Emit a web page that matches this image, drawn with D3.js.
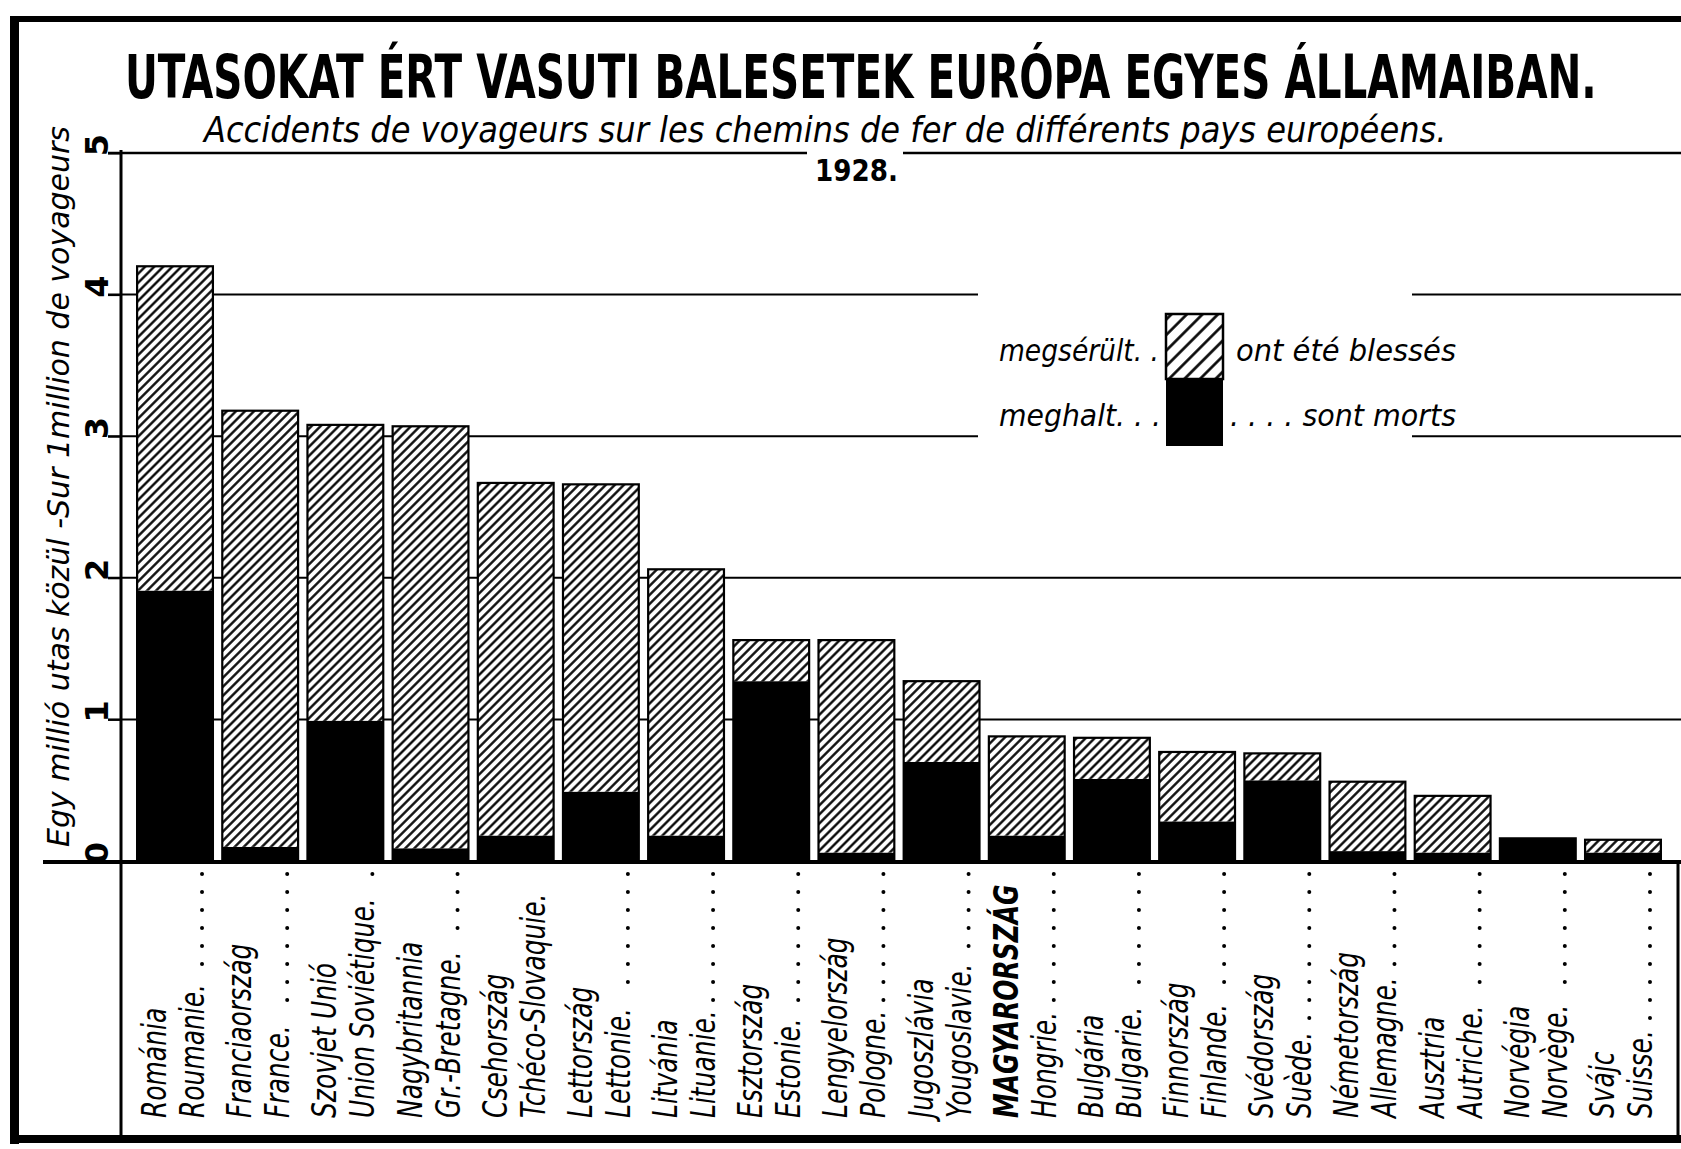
<!DOCTYPE html>
<html>
<head>
<meta charset="utf-8">
<script src="https://cdn.jsdelivr.net/npm/d3@7"></script>
<style>
  html, body { margin: 0; padding: 0; background: #fff; }
  svg { display: block; }
  text { fill: #000; }
</style>
</head>
<body>
<script>
// hungarian / french names, left to right
const huNames = ["Románia", "Franciaország", "Szovjet Unió", "Nagybritannia", "Csehország",
  "Lettország", "Litvánia", "Esztország", "Lengyelország", "Jugoszlávia", "MAGYARORSZÁG",
  "Bulgária", "Finnország", "Svédország", "Németország", "Ausztria", "Norvégia", "Svájc"];
const frNames = ["Roumanie.", "France.", "Union Soviétique.", "Gr.-Bretagne.", "Tchéco-Slovaquie.",
  "Lettonie.", "Lituanie.", "Estonie.", "Pologne.", "Yougoslavie.", "Hongrie.",
  "Bulgarie.", "Finlande.", "Suède.", "Allemagne.", "Autriche.", "Norvège.", "Suisse."];

// per 1 million passengers
const killed  = [1.91, 0.10, 0.99, 0.09, 0.18, 0.49, 0.18, 1.27, 0.06, 0.70, 0.18, 0.58, 0.28, 0.57, 0.07, 0.06, 0.16, 0.06];
const injured = [2.29, 3.08, 2.09, 2.98, 2.49, 2.17, 1.88, 0.29, 1.50, 0.57, 0.70, 0.29, 0.49, 0.19, 0.49, 0.40, 0.00, 0.09];

const yTicks = [0, 1, 2, 3, 4, 5];

const w = 1681, h = 1149;
const fontC = "'DejaVu Sans Condensed', 'DejaVu Sans', sans-serif";

const svg = d3.select("body").append("svg")
  .attr("width", w)
  .attr("height", h);

const defs = svg.append("defs");
const hatch = (id, step, sw) => {
  const p = defs.append("pattern")
    .attr("id", id)
    .attr("patternUnits", "userSpaceOnUse")
    .attr("width", step).attr("height", 20)
    .attr("patternTransform", "rotate(45)");
  p.append("rect").attr("width", step).attr("height", 20).attr("fill", "#fff");
  p.append("line").attr("x1", step / 2).attr("x2", step / 2).attr("y1", 0).attr("y2", 20)
    .attr("stroke", "#000").attr("stroke-width", sw);
};
hatch("hatch", 6.4, 2.3);
hatch("hatchBig", 11, 2.6);

const x = d3.scaleBand()
  .domain(huNames)
  .range([132, 1666])
  .paddingInner(0.11)
  .paddingOuter(0.06);

const y = d3.scaleLinear()
  .domain([0, 5])
  .range([861, 153]);

const axisX = 121;

// fit a text to a given width by squeezing it horizontally
const fitText = (sel, tx, ty, width) => {
  const len = sel.node().getComputedTextLength();
  sel.attr("transform", `translate(${tx},${ty}) scale(${width / len},1)`);
};

// titles
fitText(svg.append("text")
  .style("font-family", fontC).style("font-weight", "bold").style("font-size", "60px")
  .text("UTASOKAT ÉRT VASUTI BALESETEK EURÓPA EGYES ÁLLAMAIBAN."), 125, 98, 1472);

fitText(svg.append("text")
  .style("font-family", fontC).style("font-style", "italic").style("font-size", "35px")
  .text("Accidents de voyageurs sur les chemins de fer de différents pays européens."), 204, 142, 1243);

fitText(svg.append("text")
  .style("font-family", "'DejaVu Sans', sans-serif").style("font-weight", "bold").style("font-size", "30px")
  .text("1928."), 815, 181, 83);

// gridlines, with the gaps left for the year and the legend
const gaps = { 5: [[807, 903]], 4: [[978, 1412]], 3: [[978, 1412]] };
yTicks.filter(d => d > 0).forEach(t => {
  let segs = [[108, 1681]];
  (gaps[t] || []).forEach(g => {
    segs = segs.flatMap(s => (g[0] > s[0] && g[1] < s[1]) ? [[s[0], g[0]], [g[1], s[1]]] : [s]);
  });
  segs.forEach(s => {
    svg.append("line")
      .attr("x1", s[0]).attr("x2", s[1])
      .attr("y1", y(t)).attr("y2", y(t))
      .attr("stroke", "#000").attr("stroke-width", t === 5 ? 2.6 : 2);
  });
});

// y axis
const yAxis = d3.axisLeft(y).tickValues(yTicks).tickSize(13).tickFormat("");
const gy = svg.append("g")
  .attr("transform", `translate(${axisX},0)`)
  .call(yAxis);
gy.select(".domain").remove();
gy.selectAll(".tick line").attr("stroke", "#000").attr("stroke-width", 2);

svg.append("g").selectAll("text")
  .data(yTicks)
  .join("text")
  .attr("transform", d => `translate(108,${y(d) - 8}) rotate(-90)`)
  .attr("text-anchor", "middle")
  .style("font-family", "'DejaVu Sans', sans-serif")
  .style("font-weight", "bold")
  .style("font-size", "32px")
  .text(d => d);

svg.append("text")
  .attr("transform", "translate(69,847) rotate(-90)")
  .attr("textLength", 721).attr("lengthAdjust", "spacingAndGlyphs")
  .style("font-family", fontC).style("font-style", "italic").style("font-size", "30px")
  .text("Egy millió utas közül -Sur 1million de voyageurs");

// bars
const rows = huNames.map((n, i) => ({ name: n, killed: killed[i], injured: injured[i] }));
const stack = d3.stack().keys(["killed", "injured"])(rows);

const layers = svg.append("g").selectAll("g")
  .data(stack)
  .join("g")
  .attr("fill", d => d.key === "killed" ? "#000" : "url(#hatch)");

layers.selectAll("rect")
  .data(d => d)
  .join("rect")
  .attr("x", d => x(d.data.name))
  .attr("y", d => y(d[1]))
  .attr("width", x.bandwidth())
  .attr("height", d => y(d[0]) - y(d[1]));

svg.append("g").selectAll("rect")
  .data(rows)
  .join("rect")
  .attr("x", d => x(d.name))
  .attr("y", d => y(d.killed + d.injured))
  .attr("width", x.bandwidth())
  .attr("height", d => y(0) - y(d.killed + d.injured))
  .attr("fill", "none")
  .attr("stroke", "#000")
  .attr("stroke-width", 2.2);

// legend
const lg = svg.append("g");
lg.append("rect").attr("x", 1166).attr("y", 314).attr("width", 57).attr("height", 65)
  .attr("fill", "url(#hatchBig)").attr("stroke", "#000").attr("stroke-width", 2.5);
lg.append("rect").attr("x", 1166).attr("y", 379).attr("width", 57).attr("height", 67)
  .attr("fill", "#000");
const legTxt = [
  { t: "megsérült. .", x: 999, y: 361, len: 160 },
  { t: "ont été blessés", x: 1236, y: 361, len: 220 },
  { t: "meghalt. . .", x: 999, y: 426, len: 162 },
  { t: ". . . . sont morts", x: 1230, y: 426, len: 226 }
];
lg.selectAll("text")
  .data(legTxt)
  .join("text")
  .attr("x", d => d.x).attr("y", d => d.y)
  .attr("textLength", d => d.len).attr("lengthAdjust", "spacingAndGlyphs")
  .style("font-family", fontC).style("font-style", "italic").style("font-size", "30px")
  .text(d => d.t);

// frame
svg.append("rect").attr("x", 10).attr("y", 16).attr("width", w - 10).attr("height", 6).attr("fill", "#000");
svg.append("rect").attr("x", 10).attr("y", 16).attr("width", 9).attr("height", 1128).attr("fill", "#000");
svg.append("rect").attr("x", 10).attr("y", 1135).attr("width", w - 10).attr("height", 8).attr("fill", "#000");
svg.append("line").attr("x1", 1678).attr("x2", 1678).attr("y1", 862).attr("y2", 1143)
  .attr("stroke", "#000").attr("stroke-width", 3);

// baseline and label box
svg.append("line").attr("x1", 43).attr("x2", w).attr("y1", 862).attr("y2", 862)
  .attr("stroke", "#000").attr("stroke-width", 4);
svg.append("line").attr("x1", axisX).attr("x2", axisX).attr("y1", 150).attr("y2", 1137)
  .attr("stroke", "#000").attr("stroke-width", 3);

// category labels
const sq = 0.84, yBase = 1118;
const lab = svg.append("g").selectAll("g")
  .data(rows.map((d, i) => ({ hu: d.name, fr: frNames[i] })))
  .join("g")
  .attr("transform", d => `translate(${x(d.hu) + x.bandwidth() / 2},0)`);

lab.append("text")
  .attr("transform", `translate(-9,${yBase}) rotate(-90) scale(${sq},1)`)
  .style("font-family", fontC)
  .style("font-style", "italic")
  .style("font-weight", d => d.hu === "MAGYARORSZÁG" ? "bold" : "normal")
  .style("font-size", "33px")
  .text(d => d.hu);

const fr = lab.append("text")
  .attr("transform", `translate(29,${yBase}) rotate(-90) scale(${sq},1)`)
  .style("font-family", fontC)
  .style("font-style", "italic")
  .style("font-size", "33px")
  .text(d => d.fr);

fr.each(function(d) { d.len = this.getComputedTextLength() * sq; });

lab.filter(d => yBase - d.len - 14 > 880)
  .append("line")
  .attr("x1", 27).attr("x2", 27)
  .attr("y1", 874)
  .attr("y2", d => yBase - d.len - 8)
  .attr("stroke", "#000")
  .attr("stroke-width", 4)
  .attr("stroke-linecap", "round")
  .attr("stroke-dasharray", "0 18");
</script>
</body>
</html>
